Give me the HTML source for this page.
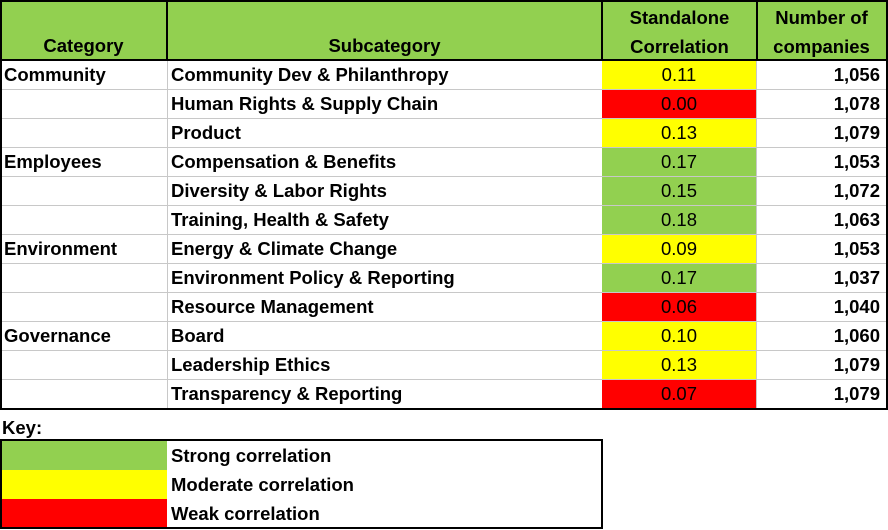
<!DOCTYPE html>
<html><head><style>
body{margin:0;width:888px;height:530px;background:#fff;position:relative;font-family:"Liberation Sans",Arial,sans-serif;font-size:18.5px;font-weight:bold;color:#000;overflow:hidden}
.a{position:absolute;box-sizing:border-box;white-space:nowrap}
.c{position:absolute;box-sizing:border-box;height:29px;line-height:28px;white-space:nowrap;border-bottom:1px solid #c8c8c8;border-right:1px solid #c8c8c8;padding:0 4px}
</style></head><body>
<div class="a" style="left:0;top:0;width:888px;height:61px;background:#92D050;border:2px solid #000;border-bottom:2px solid #000"></div>
<div class="a" style="left:166px;top:0;width:2px;height:61px;background:#000"></div>
<div class="a" style="left:601px;top:0;width:2px;height:61px;background:#000"></div>
<div class="a" style="left:756px;top:0;width:2px;height:61px;background:#000"></div>
<div class="a" style="left:0;top:35px;width:167px;text-align:center">Category</div>
<div class="a" style="left:167px;top:35px;width:435px;text-align:center">Subcategory</div>
<div class="a" style="left:602px;top:3px;width:155px;text-align:center;line-height:29px">Standalone<br>Correlation</div>
<div class="a" style="left:757px;top:3px;width:129px;text-align:center;line-height:29px">Number of<br>companies</div>
<div id="rows"></div>
<div class="a" style="left:0;top:60px;width:888px;height:350px;border:2px solid #000;border-top:none"></div>
<div class="a" style="left:2px;top:417px">Key:</div>
<div class="a" style="left:0;top:439px;width:603px;height:90px;border:2px solid #000"></div>
<div class="a" style="left:2px;top:441px;width:165px;height:29px;background:#92D050"></div>
<div class="a" style="left:2px;top:470px;width:165px;height:29px;background:#FFFF00"></div>
<div class="a" style="left:2px;top:499px;width:165px;height:28px;background:#FF0000"></div>
<div class="a" style="left:171px;top:445px">Strong correlation</div>
<div class="a" style="left:171px;top:474px">Moderate correlation</div>
<div class="a" style="left:171px;top:503px">Weak correlation</div>
<script>
var d=[["Community","Community Dev & Philanthropy","0.11","y","1,056"],["","Human Rights & Supply Chain","0.00","r","1,078"],["","Product","0.13","y","1,079"],["Employees","Compensation & Benefits","0.17","g","1,053"],["","Diversity & Labor Rights","0.15","g","1,072"],["","Training, Health & Safety","0.18","g","1,063"],["Environment","Energy & Climate Change","0.09","y","1,053"],["","Environment Policy & Reporting","0.17","g","1,037"],["","Resource Management","0.06","r","1,040"],["Governance","Board","0.10","y","1,060"],["","Leadership Ethics","0.13","y","1,079"],["","Transparency & Reporting","0.07","r","1,079"]];
var col={y:"#FFFF00",r:"#FF0000",g:"#92D050"},h="";
d.forEach(function(r,i){var t=61+i*29;
h+='<div class="c" style="left:0;top:'+t+'px;width:168px">'+r[0].replace(/&/g,"&amp;")+'</div>';
h+='<div class="c" style="left:167px;top:'+t+'px;width:436px">'+r[1].replace(/&/g,"&amp;")+'</div>';
h+='<div class="c" style="left:602px;top:'+t+'px;width:155px;text-align:center;font-weight:normal;background:'+col[r[3]]+'">'+r[2]+'</div>';
h+='<div class="c" style="left:757px;top:'+t+'px;width:131px;text-align:right;border-right:none;padding-right:8px">'+r[4]+'</div>';});
document.getElementById("rows").innerHTML=h;
</script>
</body></html>
